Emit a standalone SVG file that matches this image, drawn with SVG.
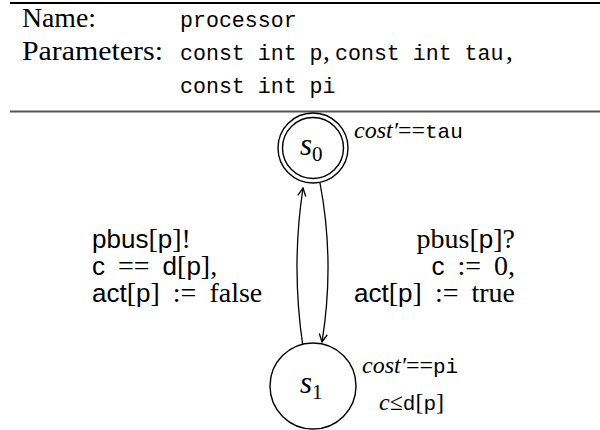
<svg xmlns="http://www.w3.org/2000/svg" width="600" height="430" viewBox="0 0 600 430">
<defs>
<style>
.rule{stroke:#000;stroke-width:2}
.rule2{stroke:#555;stroke-width:2.2}
.serif{font-family:"Liberation Serif","DejaVu Serif",serif;fill:#000}
.mono{font-family:"Liberation Mono","DejaVu Sans Mono",monospace;fill:#000}
.sans{font-family:"Liberation Sans","DejaVu Sans",sans-serif;fill:#000}
.it{font-style:italic}
.lbl{font-size:28px}
.lsans{font-size:26px}
.inv{font-size:24px}
.invm{font-size:21px}
.state{fill:#fff;stroke:#000;stroke-width:1.4}
.edge{fill:none;stroke:#000;stroke-width:1.3}
</style>
<marker id="arr" viewBox="0 0 10 10" refX="9" refY="5" markerWidth="10" markerHeight="10" markerUnits="userSpaceOnUse" orient="auto">
<path d="M1,1 L9,5 L1,9" fill="none" stroke="#000" stroke-width="1.3"/>
</marker>
</defs>
<rect width="600" height="430" fill="#fff"/>
<g id="header">
<line class="rule" x1="10" y1="3" x2="600" y2="3"/>
<line class="rule2" x1="10" y1="111.5" x2="600" y2="111.5"/>
<text class="serif" x="22" y="27" font-size="27" textLength="74" lengthAdjust="spacingAndGlyphs">Name:</text>
<text class="mono" x="180" y="27" font-size="21.6">processor</text>
<text class="serif" x="22" y="60" font-size="27" textLength="141" lengthAdjust="spacingAndGlyphs">Parameters:</text>
<text class="mono" x="180" y="60" font-size="21.6">const int p</text>
<text class="serif" x="323" y="60" font-size="27">,</text>
<text class="mono" x="335" y="60" font-size="21.6">const int tau</text>
<text class="serif" x="506" y="60" font-size="27">,</text>
<text class="mono" x="180" y="93" font-size="21.6">const int pi</text>
</g>
<g id="connectors">
<path class="edge" d="M303,347 Q291,267 303,188" marker-end="url(#arr)"/>
<path class="edge" d="M320,183 Q335,262 322,342" marker-end="url(#arr)"/>
<g id="label-left">
<text class="serif lbl" x="92" y="248"><tspan class="sans lsans">pbus</tspan>[<tspan class="sans lsans">p</tspan>]!</text>
<text class="serif lbl" x="92" y="275"><tspan class="sans lsans">c</tspan><tspan dx="13">==</tspan><tspan class="sans lsans" dx="13">d</tspan>[<tspan class="sans lsans">p</tspan>],</text>
<text class="serif lbl" x="92" y="302"><tspan class="sans lsans">act</tspan>[<tspan class="sans lsans">p</tspan>]<tspan dx="13">:=</tspan><tspan dx="13">false</tspan></text>
</g>
<g id="label-right">
<text class="serif lbl" x="515" y="248" text-anchor="end">pbus[<tspan class="sans lsans">p</tspan>]?</text>
<text class="serif lbl" x="515" y="275" text-anchor="end"><tspan class="sans lsans">c</tspan><tspan dx="13">:=</tspan><tspan dx="13">0,</tspan></text>
<text class="serif lbl" x="515" y="302" text-anchor="end"><tspan class="sans lsans">act</tspan>[<tspan class="sans lsans">p</tspan>]<tspan dx="13">:=</tspan><tspan dx="13">true</tspan></text>
</g>
</g>
<g id="s0">
<circle class="state" cx="313" cy="148" r="35"/>
<circle class="state" cx="313" cy="148" r="30.5"/>
<text class="serif" x="300" y="155" font-size="31"><tspan class="it">s</tspan><tspan font-size="21" dy="6">0</tspan></text>
<text class="serif inv" x="354" y="138"><tspan class="it">cost′</tspan>==<tspan class="mono invm">tau</tspan></text>
</g>
<g id="s1">
<circle class="state" cx="313" cy="386" r="43"/>
<text class="serif" x="300" y="393" font-size="31"><tspan class="it">s</tspan><tspan font-size="21" dy="6">1</tspan></text>
<text class="serif inv" x="362" y="373"><tspan class="it">cost′</tspan>==<tspan class="mono invm">pi</tspan></text>
<text class="serif inv" x="379" y="410"><tspan class="it">c</tspan>≤<tspan class="mono invm">d</tspan>[<tspan class="mono invm">p</tspan>]</text>
</g>
</svg>
